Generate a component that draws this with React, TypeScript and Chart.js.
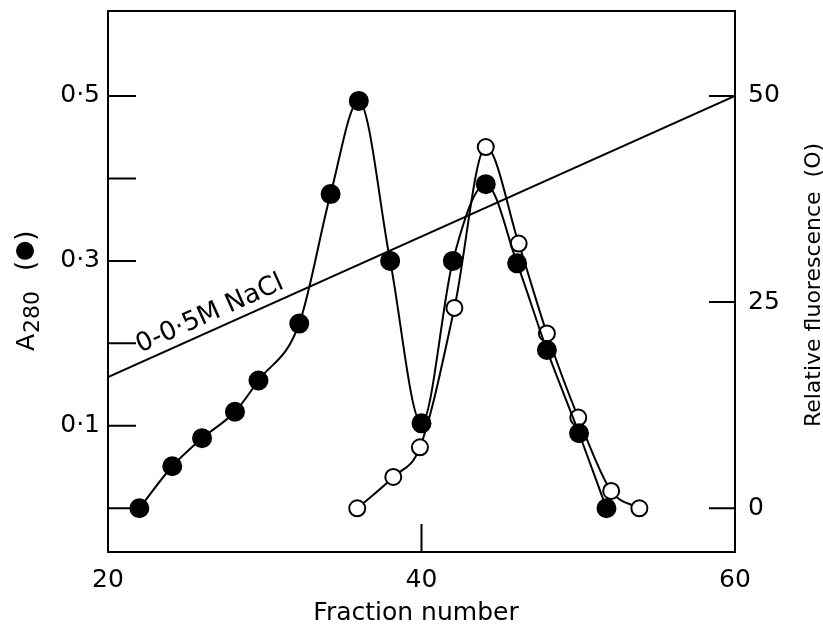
import React, { useEffect, useRef } from 'react';
import { Chart, registerables } from 'chart.js';

Chart.register(...registerables);

// ---- data ----
const a280Fractions = [22.0, 24.1, 26.0, 28.1, 29.6, 32.2, 34.2, 36.0, 38.0, 40.0, 42.0, 44.1, 46.1, 48.0, 50.05, 51.8];
const a280Values = [0, 0.051, 0.085, 0.117, 0.155, 0.224, 0.381, 0.494, 0.3, 0.103, 0.3, 0.393, 0.297, 0.192, 0.091, 0];

const fluorFractions = [35.9, 38.2, 39.9, 42.1, 44.1, 46.2, 48.0, 50.0, 52.1, 53.9];
const fluorValues = [0, 3.8, 7.4, 24.3, 43.8, 32.1, 21.2, 11.0, 2.1, 0];

const gradientFractions = [20, 60];
const gradientValues = [0.159, 0.5];
const gradientLabel = '0-0·5M NaCl';

const xTickValues = [20, 40, 60];
const xTickLabels = ['20', '40', '60'];
const yTickValues = [0, 0.1, 0.2, 0.3, 0.4, 0.5];
const yTickLabels = ['', '0·1', '', '0·3', '', '0·5'];
const y1TickValues = [0, 25, 50];
const y1TickLabels = ['0', '25', '50'];

const xTitle = 'Fraction number';
const yTitleMain = 'A';
const yTitleSub = '280';
const y1Title = 'Relative fluorescence  (O)';

const FONT = '"DejaVu Sans", "Liberation Sans", sans-serif';

const decorPlugin = {
  id: 'decor',
  afterDatasetsDraw(chart: any) {
    const ctx = chart.ctx as CanvasRenderingContext2D;
    const { left, right, top, bottom } = chart.chartArea;
    const xs = chart.scales.x;
    const ys = chart.scales.y;
    const ys1 = chart.scales.y1;
    ctx.save();
    ctx.strokeStyle = '#000';
    ctx.lineWidth = 2;
    // frame
    ctx.strokeRect(left, top, right - left, bottom - top);
    // inward ticks
    const tl = 28;
    ctx.beginPath();
    yTickValues.forEach((v) => {
      const p = ys.getPixelForValue(v);
      ctx.moveTo(left, p);
      ctx.lineTo(left + tl, p);
    });
    y1TickValues.forEach((v) => {
      const p = ys1.getPixelForValue(v);
      ctx.moveTo(right, p);
      ctx.lineTo(right - 26, p);
    });
    xTickValues.forEach((v) => {
      const p = xs.getPixelForValue(v);
      ctx.moveTo(p, bottom);
      ctx.lineTo(p, bottom - tl);
    });
    ctx.stroke();

    // gradient label along the line
    const x0 = xs.getPixelForValue(gradientFractions[0]);
    const y0 = ys.getPixelForValue(gradientValues[0]);
    const x1 = xs.getPixelForValue(gradientFractions[1]);
    const y1 = ys.getPixelForValue(gradientValues[1]);
    const ang = Math.atan2(y1 - y0, x1 - x0);
    const t = (22.3 - gradientFractions[0]) / (gradientFractions[1] - gradientFractions[0]);
    const ax = x0 + (x1 - x0) * t;
    const ay = y0 + (y1 - y0) * t;
    ctx.fillStyle = '#000';
    ctx.translate(ax, ay);
    ctx.rotate(ang);
    ctx.font = `26px ${FONT}`;
    ctx.textAlign = 'left';
    ctx.textBaseline = 'alphabetic';
    ctx.fillText(gradientLabel, 0, -9);
    ctx.restore();
  },
  afterDraw(chart: any) {
    const ctx = chart.ctx as CanvasRenderingContext2D;
    ctx.save();
    ctx.fillStyle = '#000';
    ctx.textBaseline = 'alphabetic';

    // x title
    ctx.font = `25px ${FONT}`;
    ctx.textAlign = 'center';
    ctx.fillText(xTitle, 416, 620);

    // left title A280 (●)
    ctx.save();
    ctx.translate(34, 351);
    ctx.rotate(-Math.PI / 2);
    ctx.textAlign = 'left';
    ctx.font = `25px ${FONT}`;
    ctx.fillText(yTitleMain, 0, 0);
    let w = ctx.measureText(yTitleMain).width;
    ctx.font = `22px ${FONT}`;
    ctx.fillText(yTitleSub, w + 1, 5);
    w += 1 + ctx.measureText(yTitleSub).width + 20;
    ctx.font = `26px ${FONT}`;
    ctx.fillText('(', w, 0);
    w += ctx.measureText('(').width + 1;
    ctx.beginPath();
    ctx.arc(w + 9, -9, 9, 0, Math.PI * 2);
    ctx.fill();
    w += 19;
    ctx.fillText(')', w, 0);
    ctx.restore();

    // right title
    ctx.save();
    ctx.translate(820, 285);
    ctx.rotate(-Math.PI / 2);
    ctx.textAlign = 'center';
    ctx.font = `22px ${FONT}`;
    ctx.fillText(y1Title, 0, 0);
    ctx.restore();

    ctx.restore();
  },
};

export default function App() {
  const ref = useRef<HTMLCanvasElement | null>(null);

  useEffect(() => {
    if (!ref.current) return;
    const a280 = a280Fractions.map((x, i) => ({ x, y: a280Values[i] }));
    const fluor = fluorFractions.map((x, i) => ({ x, y: fluorValues[i] }));
    const grad = gradientFractions.map((x, i) => ({ x, y: gradientValues[i] }));

    const noPad = (s: any) => {
      s.paddingTop = 0;
      s.paddingBottom = 0;
    };

    const chart = new Chart(ref.current, {
      type: 'line',
      data: {
        datasets: [
          {
            label: 'A280',
            data: a280,
            yAxisID: 'y',
            borderColor: '#000',
            borderWidth: 2,
            backgroundColor: '#000',
            pointBackgroundColor: '#000',
            pointBorderColor: '#000',
            pointBorderWidth: 2,
            pointRadius: 9,
            tension: 0.4,
            cubicInterpolationMode: 'monotone',
            fill: false,
          },
          {
            label: 'Fluorescence',
            data: fluor,
            yAxisID: 'y1',
            borderColor: '#000',
            borderWidth: 2,
            backgroundColor: '#fff',
            pointBackgroundColor: '#fff',
            pointBorderColor: '#000',
            pointBorderWidth: 2,
            pointRadius: 8,
            tension: 0.4,
            cubicInterpolationMode: 'monotone',
            fill: false,
          },
          {
            label: 'NaCl',
            data: grad,
            yAxisID: 'y',
            borderColor: '#000',
            borderWidth: 2,
            pointRadius: 0,
            tension: 0,
            fill: false,
          },
        ],
      } as any,
      options: {
        responsive: false,
        animation: false,
        devicePixelRatio: 1,
        layout: { padding: { top: 10, left: 0, right: 0, bottom: 0 } },
        plugins: {
          legend: { display: false },
          tooltip: { enabled: false },
          title: { display: false },
        },
        scales: {
          x: {
            type: 'linear',
            min: 20,
            max: 60,
            grid: { display: false, drawTicks: false },
            border: { display: false },
            afterBuildTicks: (s: any) => {
              s.ticks = xTickValues.map((v) => ({ value: v }));
            },
            afterFit: (s: any) => {
              s.height = 80;
              s.paddingLeft = 0;
              s.paddingRight = 0;
            },
            ticks: {
              padding: 13,
              color: '#000',
              font: { family: FONT, size: 25 },
              maxRotation: 0,
              callback: (_v: any, i: number) => xTickLabels[i],
            },
          },
          y: {
            type: 'linear',
            position: 'left',
            min: -0.053,
            max: 0.603,
            grid: { display: false, drawTicks: false },
            border: { display: false },
            afterBuildTicks: (s: any) => {
              s.ticks = yTickValues.map((v) => ({ value: v }));
            },
            afterFit: (s: any) => {
              s.width = 108;
              noPad(s);
            },
            ticks: {
              padding: 8,
              color: '#000',
              font: { family: FONT, size: 25 },
              callback: (_v: any, i: number) => yTickLabels[i],
            },
          },
          y1: {
            type: 'linear',
            position: 'right',
            min: -5.3,
            max: 60.3,
            grid: { display: false, drawTicks: false },
            border: { display: false },
            afterBuildTicks: (s: any) => {
              s.ticks = y1TickValues.map((v) => ({ value: v }));
            },
            afterFit: (s: any) => {
              s.width = 88;
              noPad(s);
            },
            ticks: {
              padding: 13,
              color: '#000',
              font: { family: FONT, size: 25 },
              callback: (_v: any, i: number) => y1TickLabels[i],
            },
          },
        },
      } as any,
      plugins: [decorPlugin],
    });
    return () => chart.destroy();
  }, []);

  return (
    <div style={{ position: 'absolute', left: 0, top: 0, width: 823, height: 632, background: '#fff' }}>
      <canvas ref={ref} width={823} height={632} style={{ display: 'block' }} />
    </div>
  );
}
